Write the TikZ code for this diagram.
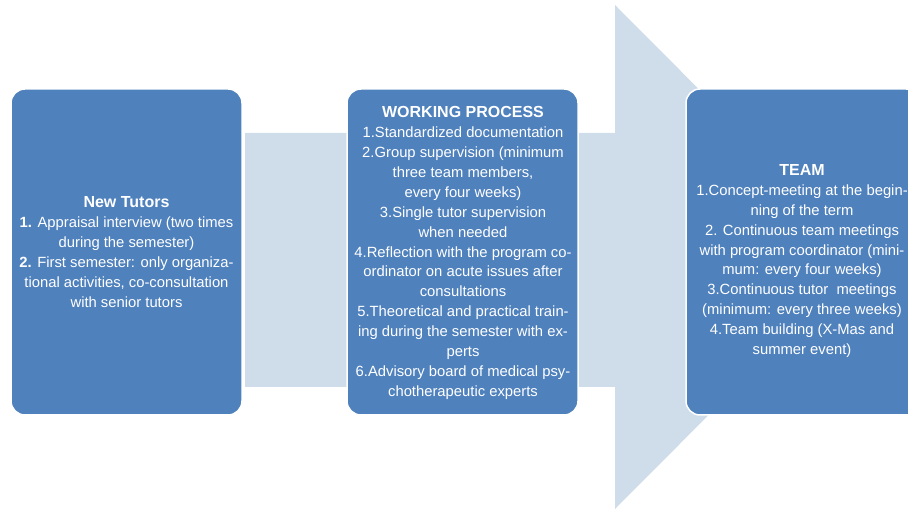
\documentclass[tikz,border=0pt]{standalone}
\usepackage{fontspec}
\setmainfont{Liberation Sans}
\definecolor{boxblue}{HTML}{4F81BD}
\definecolor{arrowblue}{HTML}{CFDDEA}
\tikzset{
  card/.style={fill=boxblue, draw=white, line width=1.5pt, rounded corners=14pt},
  cardtext/.style={text=white, align=center, inner sep=0pt, font=\fontsize{14.8}{19.9}\selectfont},
  bigarrow/.style={fill=arrowblue, draw=none}
}
\newcommand{\ttl}[1]{{\fontsize{16}{19.9}\selectfont\bfseries #1}}
\begin{document}
\begin{tikzpicture}[x=1pt,y=-1pt]
\useasboundingbox (0,0) rectangle (908,510);
\clip (0,0) rectangle (908,510);
% big background arrow
\path[bigarrow] (245,133) -- (615,133) -- (615,5) -- (866,257) -- (615,509) -- (615,387) -- (245,387) -- cycle;
% boxes
\path[card] (11,89) rectangle (242,415);
\path[card] (347,89) rectangle (578,415);
\path[card] (686,89) rectangle (920,415);
\coordinate (nt) at (126.5,252);
\coordinate (wp) at (463,253);
\coordinate (tm) at (802,261);
\node[cardtext] (newtutors) at (nt) {\ttl{New Tutors}\\
\textbf{1.} Appraisal interview (two times\\
during the semester)\\
\textbf{2.} First semester: only organiza-\\
tional activities, co-consultation\\
with senior tutors};
\node[cardtext] (working) at (wp) {\ttl{WORKING PROCESS}\\
1.Standardized documentation\\
2.Group supervision (minimum\\
three team members,\\
every four weeks)\\
3.Single tutor supervision\\
when needed\\
4.Reflection with the program co-\\
ordinator on acute issues after\\
consultations\\
5.Theoretical and practical train-\\
ing during the semester with ex-\\
perts\\
6.Advisory board of medical psy-\\
chotherapeutic experts};
\node[cardtext] (team) at (tm) {\ttl{TEAM}\\
1.Concept-meeting at the begin-\\
ning of the term\\
2. Continuous team meetings\\
with program coordinator (mini-\\
mum: every four weeks)\\
3.Continuous tutor\ \ meetings\\
(minimum: every three weeks)\\
4.Team building (X-Mas and\\
summer event)};
\end{tikzpicture}
\end{document}
